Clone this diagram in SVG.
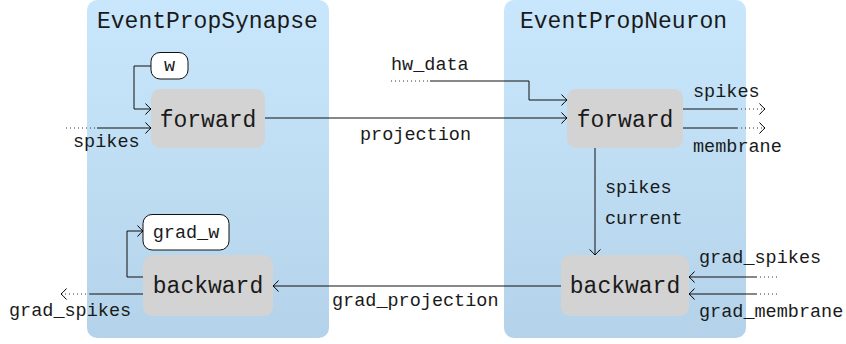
<svg xmlns="http://www.w3.org/2000/svg" width="846" height="344" viewBox="0 0 846 344">
<defs>
<linearGradient id="pg" x1="0" y1="0" x2="0" y2="1">
<stop offset="0" stop-color="#c9e7fc"/>
<stop offset="1" stop-color="#b4d3ea"/>
</linearGradient>
<marker id="ah" markerWidth="12" markerHeight="14" refX="8" refY="7" orient="auto" markerUnits="userSpaceOnUse">
<path d="M2.5,1.5 Q6,5.5 8,7 Q6,8.5 2.5,12.5" fill="none" stroke="#000" stroke-width="1"/>
</marker>
<style>
.panel{fill:url(#pg)}
.title{font-family:"Liberation Mono","DejaVu Sans Mono",monospace;font-size:23px;fill:#1a1a1a}
.op{fill:#d3d3d3}
.opt{font-family:"Liberation Mono","DejaVu Sans Mono",monospace;font-size:23px;fill:#1a1a1a;text-anchor:middle}
.par{fill:#fff;stroke:#111;stroke-width:1}
.lbl{font-family:"Liberation Mono","DejaVu Sans Mono",monospace;font-size:18.5px;fill:#1a1a1a}
.c{fill:none;stroke:#111;stroke-width:1}
.d{fill:none;stroke:#333;stroke-width:1;stroke-dasharray:1 3}
.a{marker-end:url(#ah)}
</style>
</defs>
<g id="EventPropSynapse">
<rect class="panel" x="87" y="0" width="242" height="338" rx="10"/>
<text class="title" x="97" y="28">EventPropSynapse</text>
</g>
<g id="EventPropNeuron">
<rect class="panel" x="504" y="0" width="242" height="338" rx="10"/>
<text class="title" x="520" y="28">EventPropNeuron</text>
</g>
<g id="syn_w">
<rect class="par" x="151" y="52.5" width="37" height="26.5" rx="9"/>
<text class="lbl" x="169.5" y="71" text-anchor="middle">w</text>
</g>
<g id="syn_forward">
<rect class="op" x="151" y="89" width="114" height="59" rx="9"/>
<text class="opt" x="208" y="127">forward</text>
</g>
<g id="syn_grad_w">
<rect class="par" x="143" y="214.5" width="86" height="35.5" rx="9"/>
<text class="lbl" x="186" y="238" text-anchor="middle">grad_w</text>
</g>
<g id="syn_backward">
<rect class="op" x="143" y="255" width="130" height="61" rx="9"/>
<text class="opt" x="208" y="293">backward</text>
</g>
<g id="neu_forward">
<rect class="op" x="567" y="89" width="116" height="59" rx="9"/>
<text class="opt" x="625" y="127">forward</text>
</g>
<g id="neu_backward">
<rect class="op" x="561" y="255" width="128" height="61" rx="9"/>
<text class="opt" x="625" y="293">backward</text>
</g>
<g id="connectors">
<polyline class="c a" points="151,66 134,66 134,109 151,109"/>
<line class="d" x1="66" y1="128" x2="97" y2="128"/>
<line class="c a" x1="97" y1="128" x2="151" y2="128"/>
<text class="lbl" x="73" y="147">spikes</text>
<polyline class="c a" points="143,277 127,277 127,231 143,231"/>
<line class="c" x1="143" y1="294" x2="90" y2="294"/>
<line class="d a" x1="90" y1="294" x2="61" y2="294"/>
<text class="lbl" x="9" y="316">grad_spikes</text>
<line class="c a" x1="265" y1="118" x2="567" y2="118"/>
<text class="lbl" x="360" y="140">projection</text>
<text class="lbl" x="391" y="70">hw_data</text>
<line class="d" x1="391" y1="81" x2="430" y2="81"/>
<polyline class="c a" points="430,81 529,81 529,100 567,100"/>
<line class="c" x1="683" y1="109" x2="737" y2="109"/>
<line class="d a" x1="737" y1="109" x2="765" y2="109"/>
<line class="c" x1="683" y1="128" x2="737" y2="128"/>
<line class="d a" x1="737" y1="128" x2="765" y2="128"/>
<text class="lbl" x="693" y="97">spikes</text>
<text class="lbl" x="693" y="152">membrane</text>
<line class="c a" x1="595" y1="148" x2="595" y2="255"/>
<text class="lbl" x="605" y="193">spikes</text>
<text class="lbl" x="605" y="224">current</text>
<line class="c a" x1="561" y1="286" x2="273" y2="286"/>
<text class="lbl" x="332" y="306">grad_projection</text>
<line class="d" x1="777" y1="277" x2="757" y2="277"/>
<line class="c a" x1="757" y1="277" x2="689" y2="277"/>
<text class="lbl" x="699" y="263">grad_spikes</text>
<line class="d" x1="777" y1="294" x2="757" y2="294"/>
<line class="c a" x1="757" y1="294" x2="689" y2="294"/>
<text class="lbl" x="699" y="317">grad_membrane</text>
</g>
</svg>
